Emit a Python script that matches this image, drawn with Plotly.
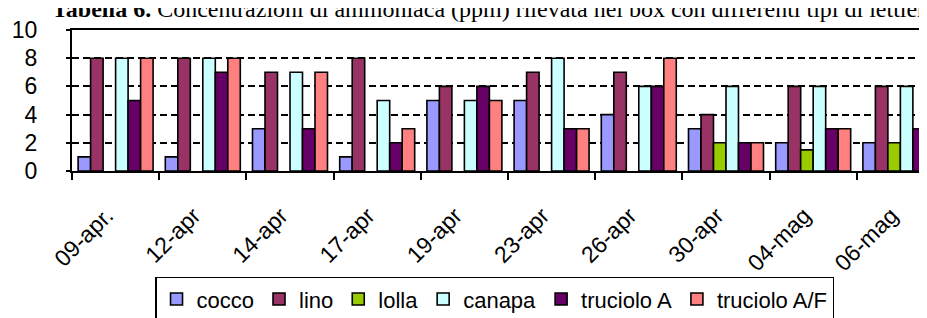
import plotly.graph_objects as go

categories = ["09-apr.", "12-apr", "14-apr", "17-apr", "19-apr", "23-apr",
              "26-apr", "30-apr", "04-mag", "06-mag"]
cocco = [1, 1, 3, 1, 5, 5, 4, 3, 2, 2]
lino = [8, 8, 7, 8, 6, 7, 7, 4, 6, 6]
lolla = [None, None, None, None, None, None, None, 2, 1.5, 2]
canapa = [8, 8, 7, 5, 5, 8, 6, 6, 6, 6]
truciolo_a = [5, 7, 3, 2, 6, 3, 6, 2, 3, 3]
truciolo_af = [8, 8, 7, 3, 5, 3, 8, 2, 3, 3]

series = [
    ("cocco", cocco, "#9999FF"),
    ("lino", lino, "#993366"),
    ("lolla", lolla, "#99CC00"),
    ("canapa", canapa, "#CCFFFF"),
    ("truciolo A", truciolo_a, "#660066"),
    ("truciolo A/F", truciolo_af, "#FF8080"),
]

fig = go.Figure()
for name, vals, col in series:
    fig.add_trace(go.Bar(
        x=categories, y=vals, name=name,
        marker=dict(color=col, line=dict(color="black", width=1.6)),
    ))

fig.update_layout(
    width=927, height=318,
    margin=dict(l=64, r=0, t=22, b=155),
    paper_bgcolor="white", plot_bgcolor="white",
    barmode="group", bargap=0.14, bargroupgap=0,
    font=dict(family="Arial, Liberation Sans, sans-serif", size=22, color="black"),
    showlegend=True,
    legend=dict(
        orientation="h", x=0.4896, xanchor="center", y=-0.75, yanchor="top",
        bordercolor="black", borderwidth=1.5, bgcolor="white",
        font=dict(size=22), itemwidth=30, tracegroupgap=0,
    ),
    annotations=[dict(
        text="<b>Tabella 6.</b> Concentrazioni di ammoniaca (ppm) rilevata nei box con differenti tipi di lettiera",
        xref="paper", yref="paper", x=0, y=1, xanchor="left", yanchor="middle",
        xshift=-22, yshift=21, showarrow=False,
        font=dict(family="Liberation Serif, Times New Roman, serif", size=24, color="black"),
    )],
)

fig.update_xaxes(
    range=[-0.5, 9.397], showline=True, linecolor="black", linewidth=2,
    mirror=True, ticks="outside", ticklen=7, tickwidth=1.5, tickcolor="black",
    tickson="boundaries", tickangle=-45, showgrid=False,
    tickmode="array", tickvals=categories,
    ticktext=[c + "\u00a0\u00a0" for c in categories],
    tickfont=dict(size=23), ticklabelstandoff=11,
)
fig.update_yaxes(
    range=[0, 10], tickvals=[0, 2, 4, 6, 8, 10], showline=True, linecolor="black",
    linewidth=2, ticks="outside", ticklen=4, tickwidth=1.5, tickcolor="black",
    showgrid=True, gridcolor="black", gridwidth=1.8, griddash="7px,4px",
    zeroline=False, tickfont=dict(size=23), ticklabelstandoff=24,
)

fig.write_html("out.html")
